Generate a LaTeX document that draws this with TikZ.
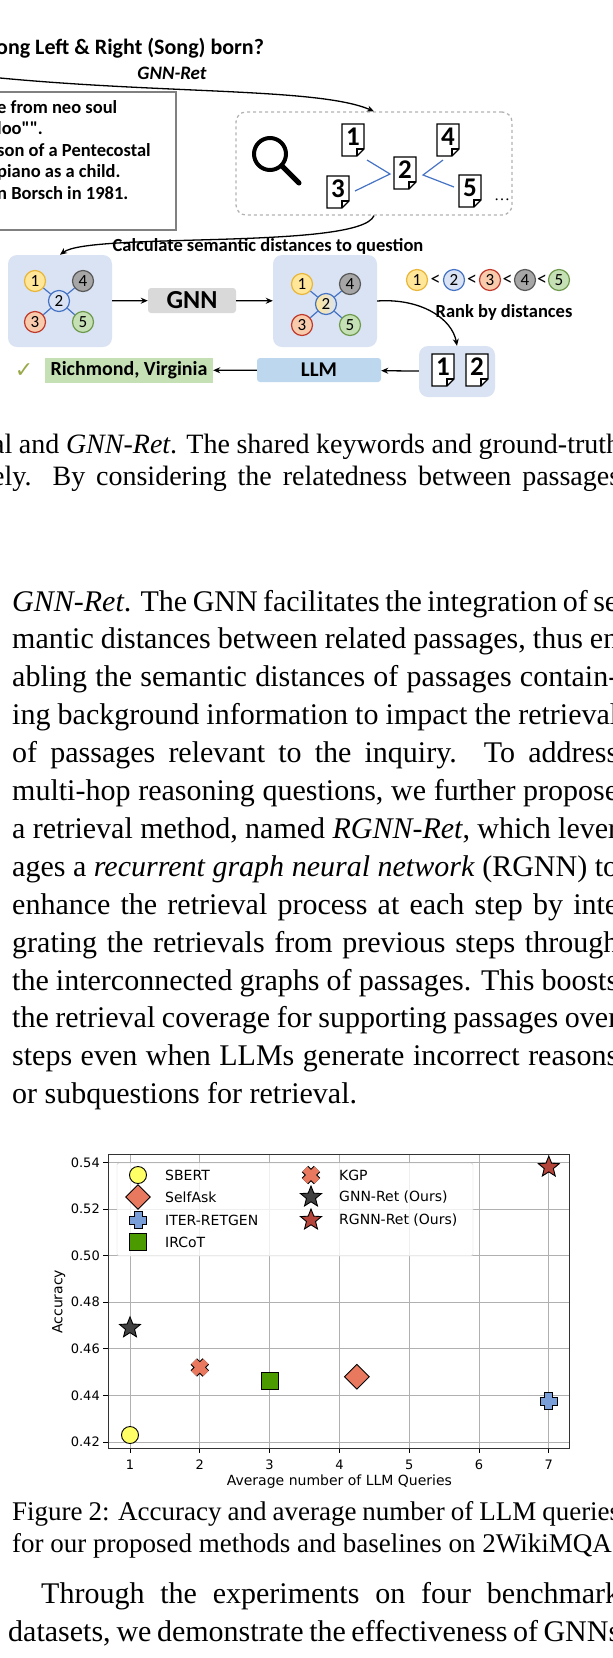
\documentclass[tikz,border=0pt]{standalone}
\usepackage{fontspec}
\setmainfont{Liberation Serif}
\newfontfamily\figfont{Carlito}
\newfontfamily\chartfont{DejaVu Sans}
\usetikzlibrary{shapes.geometric,positioning,arrows.meta,calc}

\definecolor{panelblue}{HTML}{DAE3F3}
\definecolor{llmblue}{HTML}{BDD7EE}
\definecolor{ansgreen}{HTML}{C5E0B4}
\definecolor{gnngray}{HTML}{D9D9D9}
\definecolor{edgeblue}{HTML}{4472C4}
\definecolor{yelfill}{HTML}{FFE699}
\definecolor{yeldraw}{HTML}{E8B63A}
\definecolor{redfill}{HTML}{F8CBAD}
\definecolor{reddraw}{HTML}{C0392B}
\definecolor{grayfill}{HTML}{A6A6A6}
\definecolor{graydraw}{HTML}{595959}
\definecolor{grnfill}{HTML}{C5E0B4}
\definecolor{grndraw}{HTML}{6E9A4E}
\definecolor{checkgreen}{HTML}{9AA84A}
\definecolor{gridc}{HTML}{B0B0B0}
\definecolor{kgpc}{HTML}{E8785E}
\definecolor{iterc}{HTML}{7A9FD8}
\definecolor{ircotc}{HTML}{4A9A00}
\definecolor{rgnnc}{HTML}{B5453A}
\definecolor{sbertc}{HTML}{FFFF66}

\tikzset{
  gnode/.style={circle,draw,line width=1.2pt,minimum size=21pt,inner sep=0pt,
    font=\figfont\fontsize{17}{17}\selectfont},
  p1/.style={gnode,fill=yelfill,draw=yeldraw},
  p2/.style={gnode,fill=panelblue,draw=edgeblue},
  p3/.style={gnode,fill=redfill,draw=reddraw},
  p4/.style={gnode,fill=grayfill,draw=graydraw},
  p5/.style={gnode,fill=grnfill,draw=grndraw},
  panel/.style={rounded corners=9pt,fill=panelblue,inner sep=0pt},
  flow/.style={-{Stealth[length=7pt,width=6pt]},line width=1.3pt},
  figtext/.style={font=\figfont\bfseries\fontsize{18.5}{18.5}\selectfont,inner sep=0pt},
  body/.style={anchor=base west,inner sep=0pt,font=\fontsize{30}{36}\selectfont},
  capt/.style={anchor=base west,inner sep=0pt,font=\fontsize{27}{32}\selectfont},
  mk/.style={draw=black,line width=0.9pt,inner sep=0pt},
  doc/.pic={
    \draw[line width=1.2pt,fill=white] (-11pt,16pt) -- (-11pt,-16pt) -- (4pt,-16pt)
      -- (11pt,-9pt) -- (11pt,16pt) -- cycle;
    \draw[line width=1.2pt] (4pt,-16pt) -- (4pt,-9pt) -- (11pt,-9pt);
    \node[font=\figfont\bfseries\fontsize{27}{27}\selectfont,inner sep=0pt] at (0pt,3pt) {\tikzpictext};
  },
  xmark/.pic={
    \draw[line width=9pt,black] (-6pt,-6pt) -- (6pt,6pt) (-6pt,6pt) -- (6pt,-6pt);
    \draw[line width=7pt,kgpc] (-6pt,-6pt) -- (6pt,6pt) (-6pt,6pt) -- (6pt,-6pt);
  },
  pmark/.pic={
    \draw[line width=9pt,black] (-9pt,0pt) -- (9pt,0pt) (0pt,-9pt) -- (0pt,9pt);
    \draw[line width=7pt,iterc] (-8pt,0pt) -- (8pt,0pt) (0pt,-8pt) -- (0pt,8pt);
  },
}

% passage graph: prefix, centre, extra style of node 2
\newcommand\passgraph[3]{
  \node[p2,#3] (#1-2) at (#2) {2};
  \node[p1] (#1-1) at ($(#2)+(-24,-20)$) {1};
  \node[p4] (#1-4) at ($(#2)+(24,-20)$) {4};
  \node[p3] (#1-3) at ($(#2)+(-24,21)$) {3};
  \node[p5] (#1-5) at ($(#2)+(24,21)$) {5};
  \foreach \k in {1,3,4,5}
    \draw[edgeblue,line width=1.2pt] (#1-2) -- (#1-\k);
}

\begin{document}
\begin{tikzpicture}[x=1pt,y=-1pt]
  \useasboundingbox (0,0) rectangle (613,1658);
  \clip (0,0) rectangle (613,1658);

  % question and passages
  \node[figtext,anchor=west,font=\figfont\bfseries\fontsize{22}{22}\selectfont] (question) at (-4,48) {ong Left \& Right (Song) born?};
  \node[figtext,font=\figfont\bfseries\itshape\fontsize{19}{19}\selectfont] (retname) at (172,73) {GNN-Ret};
  \coordinate (qin) at (0,78);
  \draw[draw=gray,line width=1.5pt] (-20,92) rectangle (176,230);
  \foreach \y/\t in {107/{e from neo soul}, 128/{loo"".}, 150/{son of a Pentecostal},
                     172/{piano as a child.}, 193/{n Borsch in 1981.}}
    \node[figtext,anchor=west] at (-3,\y) {\t};

  % retrieval
  \node[draw=gray!60,dashed,line width=1.3pt,rounded corners=10pt,minimum width=276pt,
        minimum height=103pt] (search) at (374,163.5) {};
  \draw[line width=4pt] (270,154) circle (16);
  \draw[line width=5pt,line cap=round] (283,167) -- (299,183);
  \pic[pic text=1] at (353,140) {doc};
  \pic[pic text=4] at (448,140) {doc};
  \pic[pic text=2] at (405,173) {doc};
  \pic[pic text=3] at (338,192) {doc};
  \pic[pic text=5] at (470,191) {doc};
  \draw[edgeblue,line width=1.2pt] (367,160) -- (390,174) -- (355,191);
  \draw[edgeblue,line width=1.2pt] (443,160) -- (423,175) -- (454,187);
  \node[inner sep=0pt,font=\fontsize{16}{16}\selectfont] at (502,200) {\dots};
  \draw[flow] (qin) .. controls (170,94) and (320,88) .. (search.north);

  % graph panels
  \node[panel,minimum width=104pt,minimum height=92pt] (graphA) at (60,301) {};
  \passgraph{a}{59,301}{}
  \node[fill=gnngray,rounded corners=3pt,minimum width=88pt,minimum height=25pt,
        font=\figfont\bfseries\fontsize{26}{26}\selectfont,inner sep=0pt] (gnn) at (192,300.5) {GNN};
  \node[panel,minimum width=104pt,minimum height=92pt] (graphB) at (325,301) {};
  \passgraph{b}{326,304}{left color=yelfill,right color=panelblue}
  \draw[flow] (search.south) .. controls (360,250) and (90,232) .. (graphA.north);
  \node[figtext] (calc) at (268,246) {Calculate semantic distances to question};
  \draw[flow] (graphA) -- (gnn);
  \draw[flow] (gnn) -- (graphB);

  % ranking
  \node[p1] (r1) at (417,280) {1};
  \node[p2] (r2) at (454,280) {2};
  \node[p3] (r3) at (490,280) {3};
  \node[p4] (r4) at (525,280) {4};
  \node[p5] (r5) at (559,280) {5};
  \foreach \a/\b in {r1/r2,r2/r3,r3/r4,r4/r5}
    \node[font=\figfont\fontsize{20}{20}\selectfont,inner sep=0pt] at ($(\a)!0.5!(\b)$) {<};
  \node[panel,minimum width=76pt,minimum height=51pt] (top2) at (457,371.5) {};
  \pic[pic text=1] at (443,370) {doc};
  \pic[pic text=2] at (477,370) {doc};
  \draw[flow] (graphB.east) .. controls (420,298) and (452,318) .. (top2.north);
  \node[figtext] (rank) at (504,312) {Rank by distances};

  % answer
  \node[fill=llmblue,rounded corners=3pt,minimum width=124pt,minimum height=24pt,inner sep=0pt,
        font=\figfont\bfseries\fontsize{21}{21}\selectfont] (llm) at (319,370) {LLM};
  \node[fill=ansgreen,minimum width=168pt,minimum height=25pt,inner sep=0pt,
        font=\figfont\bfseries\fontsize{20}{20}\selectfont] (answer) at (129,370.5) {Richmond, Virginia};
  \node[text=checkgreen,font=\chartfont\fontsize{22}{22}\selectfont,inner sep=0pt] (tick) at (24,371) {✓};
  \draw[flow] (top2) -- (llm);
  \draw[flow] (llm) -- (answer);

  % caption of figure 1
  \node[capt,font=\fontsize{28}{32}\selectfont] at (-8,453) {\makebox[628pt][s]{al and \textit{GNN-Ret}. The shared keywords and ground-truth}};
  \node[capt,font=\fontsize{28}{32}\selectfont] at (-8,485) {\makebox[628pt][s]{ely.  By considering the relatedness between passages}};

  % body text
  \foreach \k/\t in {0/{\textit{GNN-Ret}. The GNN facilitates the integration of se},
     1/{mantic distances between related passages, thus en},
     2/{abling the semantic distances of passages contain-},
     3/{ing background information to impact the retrieval},
     4/{of passages relevant to the inquiry.  To address},
     5/{multi-hop reasoning questions, we further propose},
     6/{a retrieval method, named \textit{RGNN-Ret}, which lever},
     7/{ages a \textit{recurrent graph neural network} (RGNN) to},
     8/{enhance the retrieval process at each step by inte},
     9/{grating the retrievals from previous steps through},
     10/{the interconnected graphs of passages. This boosts},
     11/{the retrieval coverage for supporting passages over},
     12/{steps even when LLMs generate incorrect reasons}}
    \node[body] at (12,611+37.9*\k) {\makebox[606pt][s]{\t}};
  \node[body] at (12,611+37.9*13) {or subquestions for retrieval.};

  % chart
  \begin{scope}[shift={(130,1442)},x=69.8pt,y=2330pt,font=\chartfont\fontsize{13}{13}\selectfont]
    \foreach \i in {0,...,6} {
      \draw[gridc,line width=0.8pt] (\i,-0.0026) -- (\i,0.1234);
      \draw[line width=0.8pt] (\i,-0.0026) -- (\i,-0.0045);
      \node[anchor=north,inner sep=0pt] at (\i,-0.0075) {\the\numexpr\i+1\relax};
    }
    \foreach \j/\l in {0/0.42,1/0.44,2/0.46,3/0.48,4/0.50,5/0.52,6/0.54} {
      \draw[gridc,line width=0.8pt] (-0.315,0.02*\j) -- (6.29,0.02*\j);
      \draw[line width=0.8pt] (-0.315,0.02*\j) -- (-0.38,0.02*\j);
      \node[anchor=east,inner sep=0pt] at (-0.43,0.02*\j) {\l};
    }
    \draw[line width=0.9pt,draw=black!80] (-0.315,-0.0026) rectangle (6.29,0.1234);
    \node[font=\chartfont\fontsize{14}{14}\selectfont] at (3,-0.0168) {Average number of LLM Queries};
    \node[rotate=90,font=\chartfont\fontsize{14}{14}\selectfont] at (-1.02,0.0602) {Accuracy};
    % data points
    \node[mk,circle,fill=sbertc,minimum size=17pt] (sbert) at (0,0.003) {};
    \node[mk,star,star points=5,star point ratio=2.3,fill=black!75,minimum size=22pt] (gnnret) at (0,0.049) {};
    \pic at (1,0.032) {xmark};
    \node[mk,rectangle,fill=ircotc,minimum size=17pt] (ircot) at (2,0.026) {};
    \node[mk,diamond,fill=kgpc,minimum size=25pt] (selfask) at (3.25,0.028) {};
    \pic at (6,0.0175) {pmark};
    \node[mk,star,star points=5,star point ratio=2.3,fill=rgnnc,minimum size=22pt] (rgnnret) at (6,0.118) {};
  \end{scope}

  % legend
  \node[draw=gray!40,rounded corners=2pt,minimum width=356pt,minimum height=93pt,fill=white,
        fill opacity=0.8,inner sep=0pt] (legend) at (295,1209.5) {};
  \begin{scope}[font=\chartfont\fontsize{14}{14}\selectfont]
    \node[mk,circle,fill=sbertc,minimum size=17pt] at (138,1175) {};
    \node[mk,diamond,fill=kgpc,minimum size=25pt] at (138,1197) {};
    \pic at (138,1220) {pmark};
    \node[mk,rectangle,fill=ircotc,minimum size=17pt] at (138,1242) {};
    \pic at (311,1175) {xmark};
    \node[mk,star,star points=5,star point ratio=2.3,fill=black!75,minimum size=22pt] at (311,1197) {};
    \node[mk,star,star points=5,star point ratio=2.3,fill=rgnnc,minimum size=22pt] at (311,1220) {};
    \foreach \y/\t in {1175/SBERT,1197/SelfAsk,1220/ITER-RETGEN,1242/IRCoT}
      \node[anchor=west,inner sep=0pt] at (165,\y) {\t};
    \foreach \y/\t in {1175/KGP,1197/GNN-Ret (Ours),1220/RGNN-Ret (Ours)}
      \node[anchor=west,inner sep=0pt] at (339,\y) {\t};
  \end{scope}

  % caption of figure 2 and following text
  \node[capt] at (12,1520) {\makebox[608pt][s]{Figure 2: Accuracy and average number of LLM queries}};
  \node[capt] at (12,1552) {for our proposed methods and baselines on 2WikiMQA.};
  \node[body] at (41,1603) {\makebox[579pt][s]{Through the experiments on four benchmark}};
  \node[body] at (8,1641) {\makebox[612pt][s]{datasets, we demonstrate the effectiveness of GNNs}};
\end{tikzpicture}
\end{document}
